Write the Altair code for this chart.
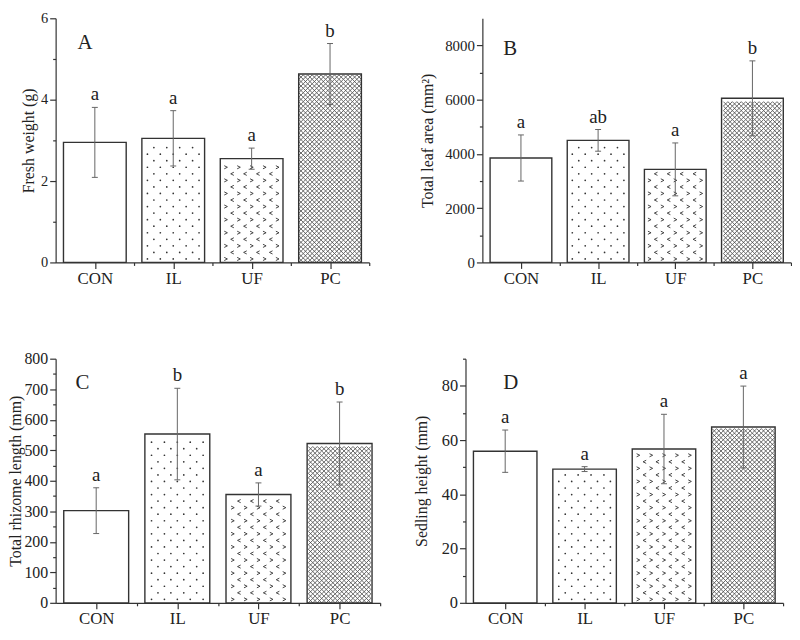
import altair as alt
import pandas as pd

categories = ["CON", "IL", "UF", "PC"]
fill_styles = ["plain", "dots", "chevrons", "crosshatch"]

a_values = [2.95, 3.05, 2.55, 4.63]
a_errors = [0.86, 0.68, 0.26, 0.75]
a_letters = ["a", "a", "a", "b"]

b_values = [3850, 4500, 3430, 6050]
b_errors = [850, 400, 975, 1380]
b_letters = ["a", "ab", "a", "b"]

c_values = [302, 553, 355, 522]
c_errors = [75, 150, 38, 136]
c_letters = ["a", "b", "a", "b"]

d_values = [55.9, 49.3, 56.7, 64.8]
d_errors = [7.8, 0.9, 12.8, 15.1]
d_letters = ["a", "a", "a", "a"]

panel_tags = ["A", "B", "C", "D"]
y_titles = ["Fresh weight (g)", "Total leaf area (mm²)",
            "Total rhizome length (mm)", "Sedling height (mm)"]
y_max = [6, 9000, 800, 90]
y_major = [2, 2000, 100, 20]
y_minor = [1, 1000, 50, 10]
y_tick_top = [6, 8000, 800, 90]

FONT = "Liberation Serif"
INK = "#222222"
AXC = "#333333"


def pattern_frames(values, ymax, W, H):
    ppx = W / 4.0
    ppy = H / ymax
    half = 0.4 * ppx
    dots, chev, cross = [], [], []
    for i, (v, style) in enumerate(zip(values, fill_styles)):
        pos = i + 1
        top = v * ppy
        if style in ("dots", "chevrons"):
            j = 0
            while True:
                yp = 3.5 + j * 6.6
                if yp > top - 3:
                    break
                off = 6.5 if j % 2 else 0.0
                for k in range(-3, 4):
                    xp = k * 13 + off
                    if abs(xp) <= half - 3:
                        rec = {"x": pos + xp / ppx, "y": yp / ppy}
                        if style == "dots":
                            dots.append(rec)
                        else:
                            rec["g"] = ">" if j % 2 == 0 else "<"
                            chev.append(rec)
                j += 1
        elif style == "crosshatch":
            s = 4.5
            n = int((2 * half) // s)
            start = -n * s / 2 + s / 2
            j = 0
            while (j + 1) * s <= top + 0.6:
                yc = (j + 0.5) * s
                for k in range(n):
                    xp = start + k * s
                    cross.append({"x": pos + xp / ppx, "y": yc / ppy})
                j += 1
    return pd.DataFrame(dots), pd.DataFrame(chev), pd.DataFrame(cross)


def panel(idx, values, errors, letters, W, H, title_pad, tag_x, tag_y, ylab_size):
    ymax, major, minor, ytop = y_max[idx], y_major[idx], y_minor[idx], y_tick_top[idx]
    pos = list(range(1, len(categories) + 1))
    df = pd.DataFrame({"cat": categories, "pos": pos, "val": values,
                       "err": errors, "letter": letters})
    df["x0"] = df.pos - 0.4
    df["x1"] = df.pos + 0.4
    df["lo"] = df.val - df.err
    df["hi"] = df.val + df.err
    capw = 3.0 * 4 / W
    df["c0"] = df.pos - capw
    df["c1"] = df.pos + capw

    xvals = [1, 1.5, 2, 2.5, 3, 3.5, 4, 4.5]
    cat_arr = "[" + ",".join("'" + c + "'" for c in categories) + "]"
    x_axis = alt.Axis(
        values=xvals, title=None, grid=False,
        labelExpr=f"(datum.value % 1 == 0) ? {cat_arr}[datum.value - 1] : ''",
        tickSize={"condition": {"test": "datum.value % 1 != 0", "value": 3}, "value": 6},
        labelFontSize=17, labelPadding=2, labelFlush=False, labelColor=INK,
        labelFont=FONT, domainColor=AXC, tickColor=AXC, domainWidth=1.2,
        tickWidth=1.2, labelOverlap=False,
    )
    yvals = []
    v = 0
    while v <= ytop + 1e-9:
        yvals.append(v)
        v += minor
    y_axis = alt.Axis(
        values=yvals, title=y_titles[idx], grid=False,
        labelExpr=f"datum.value % {major} == 0 ? datum.label : ''",
        tickSize={"condition": {"test": f"datum.value % {major} != 0", "value": 3}, "value": 6},
        labelFontSize=ylab_size, labelPadding=2, labelFlush=False, labelColor=INK,
        labelFont=FONT, titleFont=FONT, titleFontSize=16, titleFontWeight="normal",
        titleColor=INK, titlePadding=title_pad, domainColor=AXC, tickColor=AXC,
        domainWidth=1.2, tickWidth=1.2, labelOverlap=False, format="d",
    )
    xs = alt.Scale(domain=[0.5, 4.5], nice=False, zero=False)
    ys = alt.Scale(domain=[0, ymax], nice=False, zero=True)

    def X(f):
        return alt.X(f, type="quantitative", scale=xs, axis=x_axis)

    def Y(f):
        return alt.Y(f, type="quantitative", scale=ys, axis=y_axis)

    base = alt.Chart(df)
    bars_fill = base.mark_bar(fill="white", strokeWidth=0).encode(
        x=X("x0"), x2="x1", y=Y("val"), y2=alt.datum(0))
    dots_df, chev_df, cross_df = pattern_frames(values, ymax, W, H)
    layers = [bars_fill]
    if len(dots_df):
        layers.append(alt.Chart(dots_df).mark_circle(size=3, color="#333333", opacity=1).encode(
            x=X("x"), y=Y("y")))
    if len(chev_df):
        layers.append(alt.Chart(chev_df).mark_point(
            filled=False, size=10, strokeWidth=0.9, color="#333333", opacity=1).encode(
            x=X("x"), y=Y("y"),
            shape=alt.Shape("g:N", legend=None, scale=alt.Scale(
                domain=[">", "<"],
                range=["M-1,-1L1,0L-1,1", "M1,-1L-1,0L1,1"]))))
    if len(cross_df):
        layers.append(alt.Chart(cross_df).mark_point(
            shape="M-1,-1L1,1M-1,1L1,-1", filled=False, size=4.5 * 4.5,
            strokeWidth=0.8, color="#444444", opacity=1).encode(
            x=X("x"), y=Y("y")))
    outline = base.mark_bar(fillOpacity=0, stroke="#333333", strokeWidth=1.4).encode(
        x=X("x0"), x2="x1", y=Y("val"), y2=alt.datum(0))
    err_line = base.mark_rule(color="#666666", strokeWidth=1).encode(
        x=X("pos"), y=Y("lo"), y2="hi")
    cap_hi = base.mark_rule(color="#666666", strokeWidth=1).encode(
        x=X("c0"), x2="c1", y=Y("hi"))
    cap_lo = base.mark_rule(color="#666666", strokeWidth=1).encode(
        x=X("c0"), x2="c1", y=Y("lo"))
    sig = base.mark_text(baseline="bottom", dy=-3, fontSize=19, font=FONT, color=INK).encode(
        x=X("pos"), y=Y("hi"), text="letter:N")
    tag = alt.Chart(pd.DataFrame({"tag": [panel_tags[idx]]})).mark_text(
        align="left", baseline="middle", fontSize=21, font=FONT, color=INK).encode(
        x=alt.value(tag_x), y=alt.value(tag_y), text="tag:N")
    layers += [outline, err_line, cap_hi, cap_lo, sig, tag]
    return alt.layer(*layers).properties(width=W, height=H)


H = 246
pA = panel(0, a_values, a_errors, a_letters, 316, H, 4, 22, 25, 14.5)
pB = panel(1, b_values, b_errors, b_letters, 311, H, 9, 21, 31, 15)
pC = panel(2, c_values, c_errors, c_letters, 327, H, 0, 20, 25, 16)
pD = panel(3, d_values, d_errors, d_letters, 320, H, 12, 38, 25, 16.5)

chart = alt.vconcat(
    alt.hconcat(pA, pB, spacing=50),
    alt.hconcat(pC, pD, spacing=32),
    spacing=65,
).properties(
    padding={"left": 0, "top": 0, "right": 0, "bottom": 0}
).configure(font=FONT).configure_view(stroke=None)

chart.save("out.html", embed_options={"renderer": "svg", "actions": False})
